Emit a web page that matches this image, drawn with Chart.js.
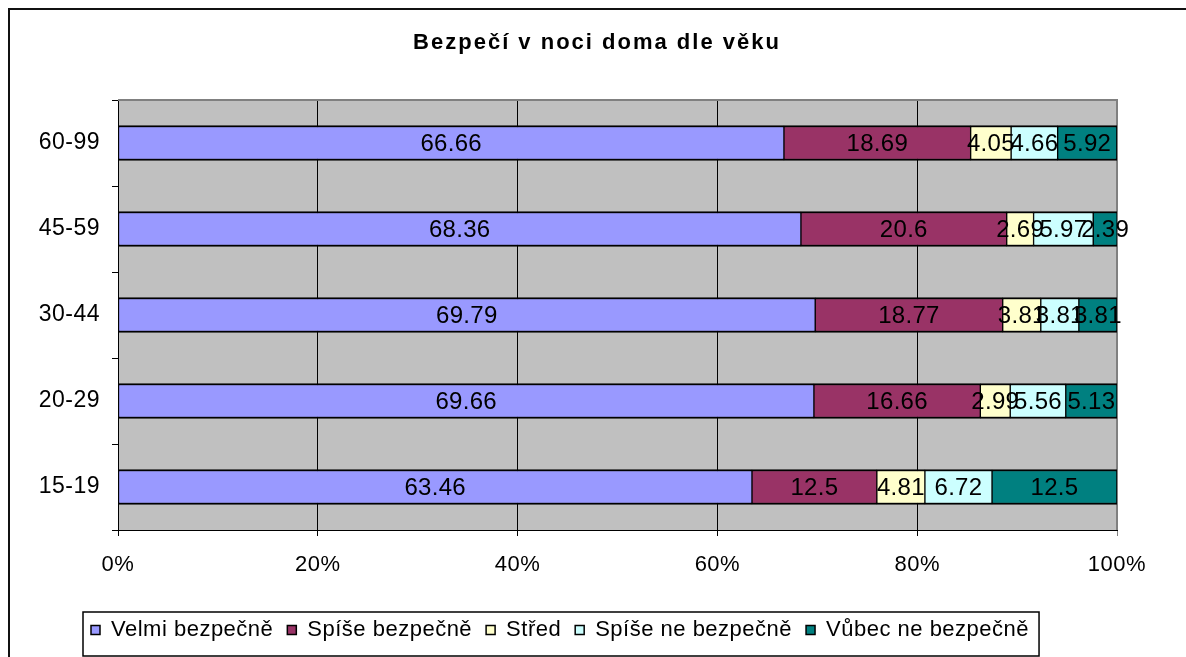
<!DOCTYPE html>
<html>
<head>
<meta charset="utf-8">
<script src="https://cdn.jsdelivr.net/npm/chart.js@4.4.1/dist/chart.umd.min.js"></script>
<style>
  html, body { margin: 0; padding: 0; background: #fff; overflow: hidden; }
  canvas { display: block; }
</style>
</head>
<body>
<canvas id="myChart" width="1186" height="657"></canvas>
<script>
// data
var categories = ['60-99', '45-59', '30-44', '20-29', '15-19'];
var seriesNames = ['Velmi bezpečně', 'Spíše bezpečně', 'Střed', 'Spíše ne bezpečně', 'Vůbec ne bezpečně'];
var velmi = [66.66, 68.36, 69.79, 69.66, 63.46];
var spiseBezpecne = [18.69, 20.6, 18.77, 16.66, 12.5];
var stred = [4.05, 2.69, 3.81, 2.99, 4.81];
var spiseNe = [4.66, 5.97, 3.81, 5.56, 6.72];
var vubec = [5.92, 2.39, 3.81, 5.13, 12.5];
var xTicks = [0, 20, 40, 60, 80, 100];

var FONT = "Arial, 'Liberation Sans', sans-serif";
var colors = ['#9999ff', '#993366', '#ffffcc', '#ccffff', '#008080'];
var values = [velmi, spiseBezpecne, stred, spiseNe, vubec];

var extras = {
    id: 'extras',
    afterInit: function(chart) {
        var tb = chart.titleBlock;
        if (tb) {
            var orig = tb.draw.bind(tb);
            tb.draw = function(area) {
                var c = chart.ctx;
                var prev = c.letterSpacing;
                c.letterSpacing = '2px';
                orig(area);
                c.letterSpacing = prev;
            };
        }
    },
    beforeLayout: function(chart) {
        chart.ctx.letterSpacing = '0.5px';
    },
    beforeDraw: function(chart) {
        var ctx = chart.ctx, a = chart.chartArea;
        // y labels stick out past the narrow axis box, so don't clip them
        if (chart.scales.y) chart.scales.y._computeLabelArea = function() { return undefined; };
        ctx.letterSpacing = '0.5px';
        ctx.save();
        // outer frame
        ctx.strokeStyle = '#111';
        ctx.lineWidth = 2;
        ctx.strokeRect(9, 9, chart.width + 40, chart.height + 40);
        // plot background
        ctx.fillStyle = '#c0c0c0';
        ctx.fillRect(a.left, a.top, a.right - a.left, a.bottom - a.top);
        ctx.restore();
    },
    beforeDatasetsDraw: function(chart) {
        var ctx = chart.ctx, a = chart.chartArea;
        ctx.save();
        ctx.strokeStyle = '#808080';
        ctx.lineWidth = 2;
        ctx.beginPath();
        ctx.moveTo(a.left, a.top);
        ctx.lineTo(a.right, a.top);
        ctx.lineTo(a.right, a.bottom);
        ctx.stroke();
        ctx.restore();
    },
    afterDatasetsDraw: function(chart) {
        var ctx = chart.ctx;
        ctx.save();
        ctx.font = '24px ' + FONT;
        ctx.fillStyle = '#000';
        ctx.textAlign = 'center';
        ctx.textBaseline = 'middle';
        ctx.letterSpacing = '0.3px';
        chart.data.datasets.forEach(function(ds, i) {
            chart.getDatasetMeta(i).data.forEach(function(bar, j) {
                ctx.fillText(String(ds.data[j]), (bar.x + bar.base) / 2, bar.y + 1);
            });
        });
        ctx.restore();
    },
    afterDraw: function(chart) {
        var hb = chart.legend && chart.legend.legendHitBoxes;
        if (!hb || !hb.length) return;
        var first = hb[0], last = hb[hb.length - 1];
        var cy = first.top + first.height / 2;
        var ctx = chart.ctx;
        ctx.save();
        ctx.strokeStyle = '#000';
        ctx.lineWidth = 1.5;
        ctx.strokeRect(first.left - 8, cy - 18, last.left + last.width + 10 - (first.left - 8), 44);
        ctx.restore();
    }
};

var ctx = document.getElementById('myChart').getContext('2d');
var myChart = new Chart(ctx, {
    type: 'bar',
    data: {
        labels: categories,
        datasets: seriesNames.map(function(name, i) {
            return {
                label: name,
                data: values[i],
                backgroundColor: colors[i],
                borderColor: '#000',
                borderWidth: {top: 2, bottom: 2, left: 1, right: 1},
                borderSkipped: false,
                barThickness: 35
            };
        })
    },
    options: {
        indexAxis: 'y',
        responsive: false,
        animation: false,
        devicePixelRatio: 1,
        layout: { padding: { left: 77, right: 69, top: 0, bottom: 6 } },
        scales: {
            x: {
                stacked: true,
                min: 0,
                max: 100,
                afterBuildTicks: function(s) { s.ticks = xTicks.map(function(v) { return {value: v}; }); },
                ticks: {
                    color: '#000',
                    font: { family: FONT, size: 22 },
                    padding: 16,
                    maxRotation: 0,
                    callback: function(v) { return v + '%'; }
                },
                grid: {
                    color: function(c) { return c.tick && c.tick.value === 100 ? '#808080' : '#000'; },
                    lineWidth: 1,
                    tickLength: 6,
                    drawOnChartArea: true
                },
                border: { color: '#000', width: 1 }
            },
            y: {
                stacked: true,
                afterFit: function(s) { s.width = 41; },
                ticks: {
                    color: '#000',
                    font: { family: FONT, size: 23 },
                    padding: 12
                },
                grid: {
                    drawOnChartArea: false,
                    color: '#000',
                    tickLength: 6,
                    offset: true
                },
                border: { color: '#000', width: 1 }
            }
        },
        plugins: {
            title: {
                display: true,
                text: 'Bezpečí v noci doma dle věku',
                color: '#000',
                font: { family: FONT, size: 22, weight: 'bold' },
                padding: { top: 29.8, bottom: 43.8 }
            },
            legend: {
                display: true,
                position: 'bottom',
                align: 'start',
                title: { display: true, text: '', padding: { top: 9.4, bottom: 0 }, font: { size: 1 } },
                labels: {
                    color: '#000',
                    font: { family: FONT, size: 22 },
                    boxWidth: 9,
                    boxHeight: 9,
                    padding: 14,
                    generateLabels: function(chart) {
                        return Chart.defaults.plugins.legend.labels.generateLabels(chart).map(function(l) {
                            l.lineWidth = 1.5;
                            l.strokeStyle = '#000';
                            return l;
                        });
                    }
                }
            },
            tooltip: { enabled: false }
        }
    },
    plugins: [extras]
});
</script>
</body>
</html>
